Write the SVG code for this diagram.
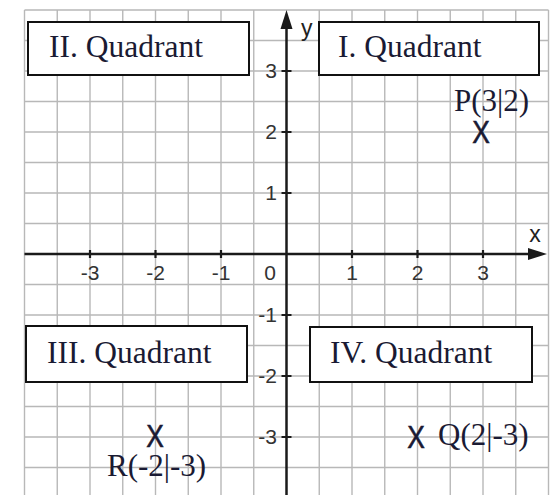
<svg xmlns="http://www.w3.org/2000/svg" width="551" height="495" viewBox="0 0 551 495">
<style>
.grid{stroke:#b8b8b8;stroke-width:1.4;fill:none}
.axis{stroke:#1a1a1a;stroke-width:2.5;fill:none}
.tick{stroke:#1a1a1a;stroke-width:2.2}
.num{font-family:"Liberation Sans",Arial,sans-serif;font-size:21px;fill:#333}
.axl{font-family:"Liberation Sans",Arial,sans-serif;font-size:23px;fill:#222}
.box{fill:#fff;stroke:#111;stroke-width:2}
.title{font-family:"Liberation Serif","Times New Roman",serif;font-size:31.5px;fill:#1a1a33}
.lbl{font-family:"Liberation Serif","Times New Roman",serif;font-size:31px;fill:#1a1a33}
.mark{font-family:"Liberation Sans",Arial,sans-serif;font-size:31px;fill:#1a1a33;stroke:#1a1a33;stroke-width:0.6}
</style>
<rect width="551" height="495" fill="#fff"/>
<g id="grid">
<path class="grid" d="M24.5 10V495M57.25 10V495M90 10V495M122.75 10V495M155.5 10V495M188.25 10V495M221 10V495M253.75 10V495M319.25 10V495M352 10V495M384.75 10V495M417.5 10V495M450.25 10V495M483 10V495M515.75 10V495M548.5 10V495M24.5 10H548.5M24.5 40.5H548.5M24.5 71H548.5M24.5 101.5H548.5M24.5 132H548.5M24.5 162.5H548.5M24.5 193H548.5M24.5 223.5H548.5M24.5 284.5H548.5M24.5 315H548.5M24.5 345.5H548.5M24.5 376H548.5M24.5 406.5H548.5M24.5 437H548.5M24.5 467.5H548.5"/>
</g>
<g id="connectors">
<path class="axis" d="M24.5 254H530"/>
<polygon points="547,254 528,248 528,260" fill="#1a1a1a"/>
<path class="axis" d="M286.5 495V26"/>
<polygon points="286.5,10 280.5,29 292.5,29" fill="#1a1a1a"/>
<path class="tick" d="M90 250V258M155.5 250V258M221 250V258M352 250V258M417.5 250V258M483 250V258M281.5 71H291.5M281.5 132H291.5M281.5 193H291.5M281.5 315H291.5M281.5 376H291.5M281.5 437H291.5"/>
</g>
<g id="axis-labels">
<text class="axl" x="301" y="36">y</text>
<text class="axl" x="535" y="242" text-anchor="middle">x</text>
<text class="num" x="90" y="280" text-anchor="middle">-3</text>
<text class="num" x="155.5" y="280" text-anchor="middle">-2</text>
<text class="num" x="221" y="280" text-anchor="middle">-1</text>
<text class="num" x="270" y="280" text-anchor="middle">0</text>
<text class="num" x="352" y="280" text-anchor="middle">1</text>
<text class="num" x="417.5" y="280" text-anchor="middle">2</text>
<text class="num" x="483" y="280" text-anchor="middle">3</text>
<text class="num" x="277" y="78" text-anchor="end">3</text>
<text class="num" x="277" y="139" text-anchor="end">2</text>
<text class="num" x="277" y="200" text-anchor="end">1</text>
<text class="num" x="277" y="322" text-anchor="end">-1</text>
<text class="num" x="277" y="383" text-anchor="end">-2</text>
<text class="num" x="277" y="444" text-anchor="end">-3</text>
</g>
<g id="quadrant-2"><rect class="box" x="28" y="22" width="221" height="53"/><text class="title" x="49" y="57">II. Quadrant</text></g>
<g id="quadrant-1"><rect class="box" x="319" y="22" width="220" height="53"/><text class="title" x="338" y="57">I. Quadrant</text></g>
<g id="quadrant-3"><rect class="box" x="26" y="326" width="221" height="56"/><text class="title" x="47" y="363">III. Quadrant</text></g>
<g id="quadrant-4"><rect class="box" x="310" y="327" width="222" height="55"/><text class="title" x="330" y="363">IV. Quadrant</text></g>
<g id="point-P"><text class="mark" transform="translate(481,143) scale(0.85,1)" text-anchor="middle">X</text><text class="lbl" x="454" y="111">P(3|2)</text></g>
<g id="point-Q"><text class="mark" transform="translate(416,448) scale(0.85,1)" text-anchor="middle">X</text><text class="lbl" x="438" y="445">Q(2|-3)</text></g>
<g id="point-R"><text class="mark" transform="translate(155,447) scale(0.85,1)" text-anchor="middle">X</text><text class="lbl" x="107" y="476">R(-2|-3)</text></g>
</svg>
